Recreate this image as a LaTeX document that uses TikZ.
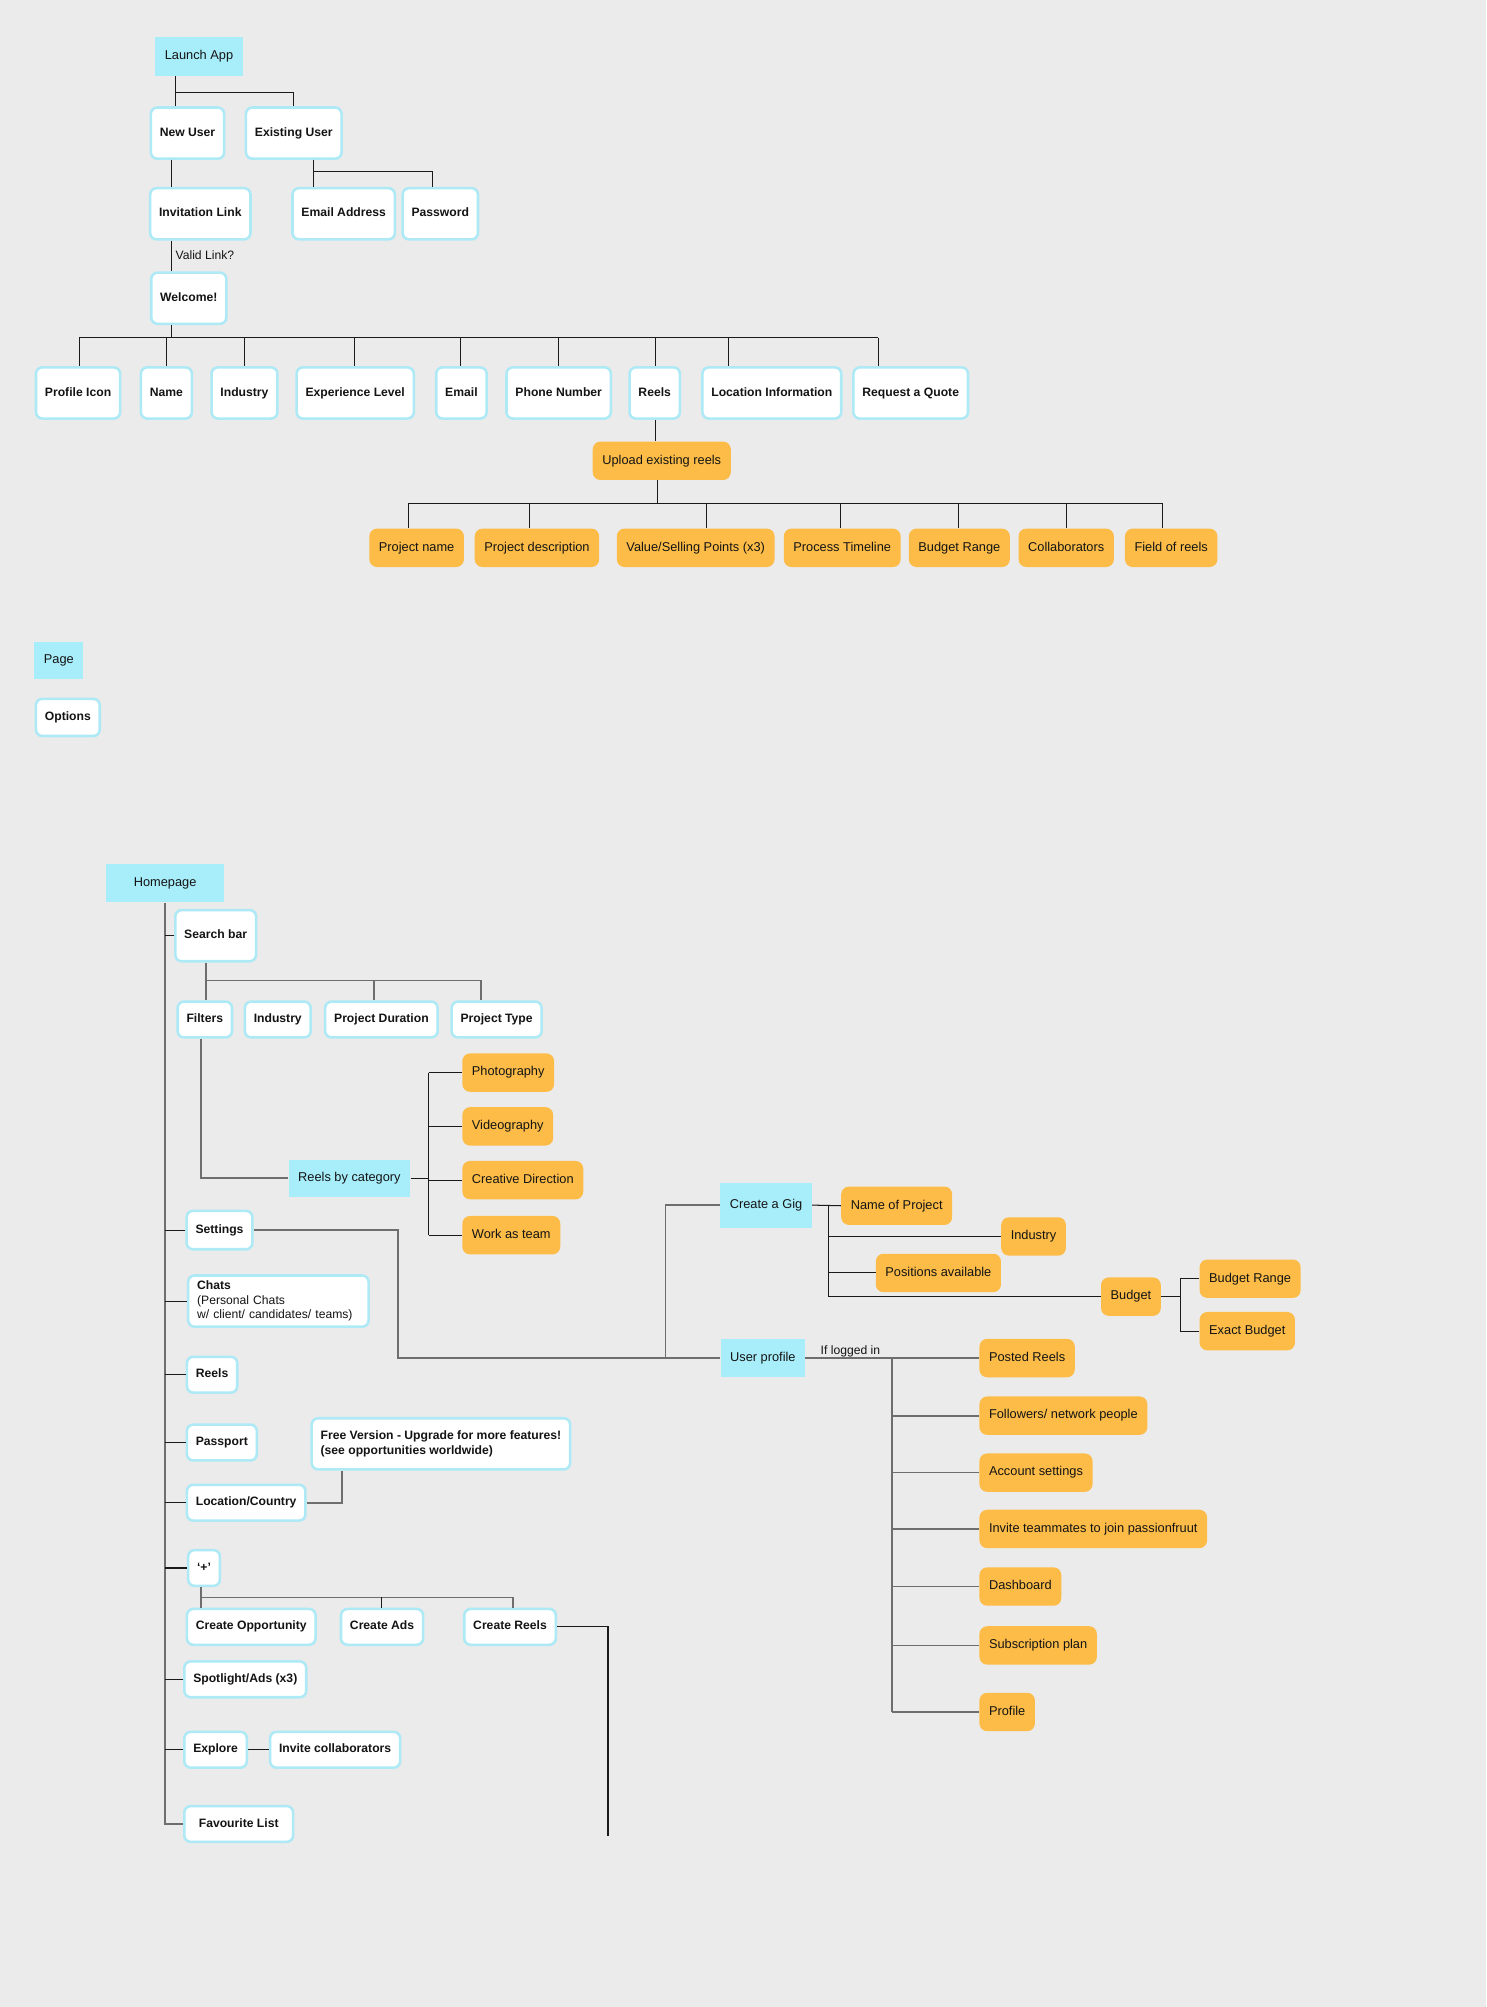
\documentclass[tikz,border=0pt]{standalone}
\usepackage{fontspec}
\setmainfont{Liberation Sans}
\usepackage{xcolor}
\usepackage{tikz}
\usetikzlibrary{positioning}
\definecolor{BG}{HTML}{EBEBEB}
\definecolor{PAGE}{HTML}{A8EEFA}
\definecolor{RIM}{HTML}{AEE9F6}
\definecolor{ORNG}{HTML}{FCBC47}
\definecolor{INK}{HTML}{141414}
\definecolor{WIRE}{HTML}{1A1A1A}
\definecolor{GREY}{HTML}{6E6E6E}

\begin{document}
\begin{tikzpicture}[
    x=1pt, y=-1pt,
    page/.style={fill=PAGE, text=INK, inner xsep=7.5pt, minimum height=30pt, text height=7.5pt, text depth=2.3pt, font=\fontsize{10}{12}\selectfont},
    optbase/.style={fill=white, draw=RIM, line width=2pt, rounded corners=5pt, inner xsep=7pt, minimum height=28pt, font=\fontsize{9.5}{11.5}\selectfont\bfseries, text=INK},
    opt/.style={optbase, text height=7pt, text depth=2.2pt},
    tall/.style={opt, minimum height=40pt},
    pick/.style={fill=ORNG, rounded corners=6pt, inner xsep=7.5pt, minimum height=30pt, text height=7.5pt, text depth=2.3pt, font=\fontsize{10}{12}\selectfont, text=INK},
    wire/.style={WIRE, line width=0.8pt},
    wireg/.style={GREY, line width=1.3pt},
    lbl/.style={font=\fontsize{9.5}{11.5}\selectfont, text=INK, inner sep=0pt},
  ]
  \useasboundingbox (0,0) rectangle (1161,1568);
  \fill[BG] (0,0) rectangle (1161,1568);

  % ===== TOP: onboarding =====
  \node[page] (launch) at (155.5,44) {Launch App};
  \node[tall] (newu) at (146.5,104) {New User};
  \node[tall] (exu) at (229.5,104) {Existing User};
  \node[tall] (invite) at (156.5,167) {Invitation Link};
  \node[tall] (mail) at (268.5,167) {Email Address};
  \node[tall] (pass) at (344,167) {Password};
  \node[tall] (welcome) at (147.5,233) {Welcome!};
  \node[lbl, anchor=west] (valid) at (137,199) {Valid Link?};

  \coordinate (lj) at (137,72);
  \coordinate (ej) at (245,134);
  \draw[wire] (lj |- launch.south) -- (lj |- newu.north);
  \draw[wire] (lj) -| (exu.north);
  \draw[wire] (134,0 |- newu.south) -- (134,0 |- invite.north);
  \draw[wire] (134,0 |- invite.south) -- (134,0 |- welcome.north);
  \draw[wire] (ej |- exu.south) -- (ej |- mail.north);
  \draw[wire] (ej) -- (338,134) -- (338,0 |- pass.north);

  % profile fields
  \draw[wire] (134,0 |- welcome.south) -- (134,264);
  \draw[wire] (62,264) -- (686,264);
  \foreach \nm/\cx/\dx/\txt in {pi/61/62/Profile Icon, nm/130/130/Name, ind/191/191/Industry,
      exp/277.5/277/Experience Level, em/360.5/360/Email, ph/436.5/436/Phone Number,
      rl/511.5/512/Reels, loc/603/569/Location Information, quote/711.5/686/Request a Quote} {
    \node[tall] (\nm) at (\cx,307) {\txt};
    \draw[wire] (\dx,264) -- (\dx,0 |- \nm.north);
  }

  % reels upload
  \node[pick] (upload) at (517,360) {Upload existing reels};
  \draw[wire] (512,0 |- rl.south) -- (512,0 |- upload.north);
  \draw[wire] (514,0 |- upload.south) -- (514,393);
  \draw[wire] (319,393) -- (908,393);
  \foreach \nm/\cx/\dx/\txt in {pn/325.5/319/Project name, pd/419.5/414/Project description,
      vs/543.5/552/{Value/Selling Points (x3)}, pt/658/657/Process Timeline,
      br/749.5/749/Budget Range, co/833/833/Collaborators, fr/915/908/Field of reels} {
    \node[pick] (\nm) at (\cx,428) {\txt};
    \draw[wire] (\dx,393) -- (\dx,0 |- \nm.north);
  }

  % ===== legend =====
  \node[page, minimum height=29pt] (legpage) at (46,516) {Page};
  \node[opt, minimum height=29pt] (legopt) at (53,560.5) {Options};

  % ===== BOTTOM: homepage =====
  \node[page, minimum width=92pt] (home) at (129,690) {Homepage};
  \node[tall] (search) at (168.5,731) {Search bar};
  \node[opt] (filt) at (160,796.5) {Filters};
  \node[opt] (sind) at (217,796.5) {Industry};
  \node[opt] (pdur) at (298,796.5) {Project Duration};
  \node[opt] (ptype) at (388,796.5) {Project Type};
  \node[opt, minimum height=30pt] (sett) at (171.5,961) {Settings};
  \node[optbase, minimum height=40pt, text width=127pt, align=left, anchor=west] (chats) at (146,1016.5)
    {Chats\\\mdseries(Personal Chats\\\mdseries w/ client/ candidates/ teams)};
  \node[opt, anchor=west] (reels) at (145,1074) {Reels};
  \node[opt, anchor=west] (passp) at (145,1127) {Passport};
  \node[opt, anchor=west] (locc) at (145,1174) {Location/Country};
  \node[optbase, align=left, minimum height=40pt] (free) at (344.5,1128)
    {Free Version - Upgrade for more features!\\(see opportunities worldwide)};
  \node[opt, anchor=west] (plus) at (146,1225) {‘+’};
  \node[opt, anchor=west] (copp) at (145,1271) {Create Opportunity};
  \node[opt] (cads) at (298.5,1271) {Create Ads};
  \node[opt] (creel) at (398.5,1271) {Create Reels};
  \node[opt, anchor=west] (spot) at (143,1312) {Spotlight/Ads (x3)};
  \node[opt, anchor=west] (expl) at (143,1367) {Explore};
  \node[opt, anchor=west] (invc) at (210,1367) {Invite collaborators};
  \node[opt, anchor=west, minimum width=85pt] (fav) at (143,1425) {Favourite List};

  % trunk and branches
  \draw[wireg] (home.south) |- (fav.west);
  \foreach \nm in {search, sett, chats, reels, passp, locc, plus, spot, expl} {
    \draw[wire] (\nm.west) -- (\nm.west -| home);
  }

  % search bar
  \coordinate (sj) at (161,766);
  \draw[wireg] (sj |- search.south) -- (sj) -- (376,766);
  \draw[wireg] (sj) -- (sj |- filt.north);
  \draw[wireg] (292,766) -- (292,0 |- pdur.north);
  \draw[wireg] (376,766) -- (376,0 |- ptype.north);

  % reels by category
  \node[page, minimum height=29pt] (rcat) at (273,920.5) {Reels by category};
  \node[pick, anchor=west] (photo) at (361,838) {Photography};
  \node[pick, anchor=west] (video) at (361,880) {Videography};
  \node[pick, anchor=west] (creat) at (361,922) {Creative Direction};
  \node[pick, anchor=west] (team) at (361,965) {Work as team};
  \coordinate (cj) at (335,0);
  \draw[wireg] (157,0 |- filt.south) |- (rcat.west);
  \draw[wire] (rcat.east) -- (rcat.east -| cj);
  \draw[wire] (photo.west -| cj) -- (team.west -| cj);
  \foreach \nm in {photo, video, creat, team} {
    \draw[wire] (\nm.west -| cj) -- (\nm.west);
  }

  % create a gig / user profile
  \node[page, minimum height=35pt] (gig) at (598.5,941.5) {Create a Gig};
  \node[page] (uprof) at (596,1061) {User profile};
  \coordinate (rj) at (520,1061);
  \draw[wireg] (sett.east) -| (311,1061) -- (rj) |- (gig.west);
  \draw[wireg] (rj) -- (uprof.west);

  \node[pick, anchor=west] (nproj) at (657,942) {Name of Project};
  \node[pick, anchor=west] (gind) at (782,966) {Industry};
  \node[pick, anchor=west] (posn) at (684,994.5) {Positions available};
  \node[pick, anchor=west] (budget) at (860,1013) {Budget};
  \node[pick, anchor=west] (brange) at (937,999) {Budget Range};
  \node[pick, anchor=west] (exact) at (937,1040) {Exact Budget};
  \coordinate (gj) at (647,0);
  \coordinate (bj) at (922,0);
  \draw[wire] (gig.east) -- (nproj.west);
  \draw[wire] (nproj.west -| gj) -- (budget.west -| gj);
  \foreach \nm in {gind, posn, budget} {
    \draw[wire] (\nm.west -| gj) -- (\nm.west);
  }
  \draw[wire] (budget.east) -- (budget.east -| bj);
  \draw[wire] (brange.west -| bj) -- (exact.west -| bj);
  \draw[wire] (brange.west -| bj) -- (brange.west);
  \draw[wire] (exact.west -| bj) -- (exact.west);

  \node[pick, anchor=west] (posted) at (765,1061) {Posted Reels};
  \node[pick, anchor=west] (follow) at (765,1106) {Followers/ network people};
  \node[pick, anchor=west] (acct) at (765,1150.5) {Account settings};
  \node[pick, anchor=west] (invteam) at (765,1194.5) {Invite teammates to join passionfruut};
  \node[pick, anchor=west] (dash) at (765,1239.5) {Dashboard};
  \node[pick, anchor=west] (subs) at (765,1285.5) {Subscription plan};
  \node[pick, anchor=west] (prof) at (765,1337.5) {Profile};
  \node[lbl, anchor=base west] (logged) at (641,1058) {If logged in};
  \coordinate (uj) at (697,0);
  \draw[wireg] (uprof.east) -- (posted.west);
  \draw[wireg] (posted.west -| uj) -- (prof.west -| uj);
  \foreach \nm in {follow, acct, invteam, dash, subs, prof} {
    \draw[wireg] (\nm.west -| uj) -- (\nm.west);
  }

  % location / plus menu
  \coordinate (fj) at (267,0);
  \draw[wireg] (locc.east) -| (free.south -| fj);
  \coordinate (pj) at (157,1248);
  \draw[wireg] (pj |- plus.south) -- (pj |- copp.north);
  \draw[wireg] (pj) -- (401,1248) -- (401,0 |- creel.north);
  \draw[wire] (298,1248) -- (298,0 |- cads.north);
  \coordinate (rend) at (475,1434);
  \draw[wire] (creel.east) -| (rend);
  \draw[wire] (expl.east) -- (invc.west);

\end{tikzpicture}
\end{document}
